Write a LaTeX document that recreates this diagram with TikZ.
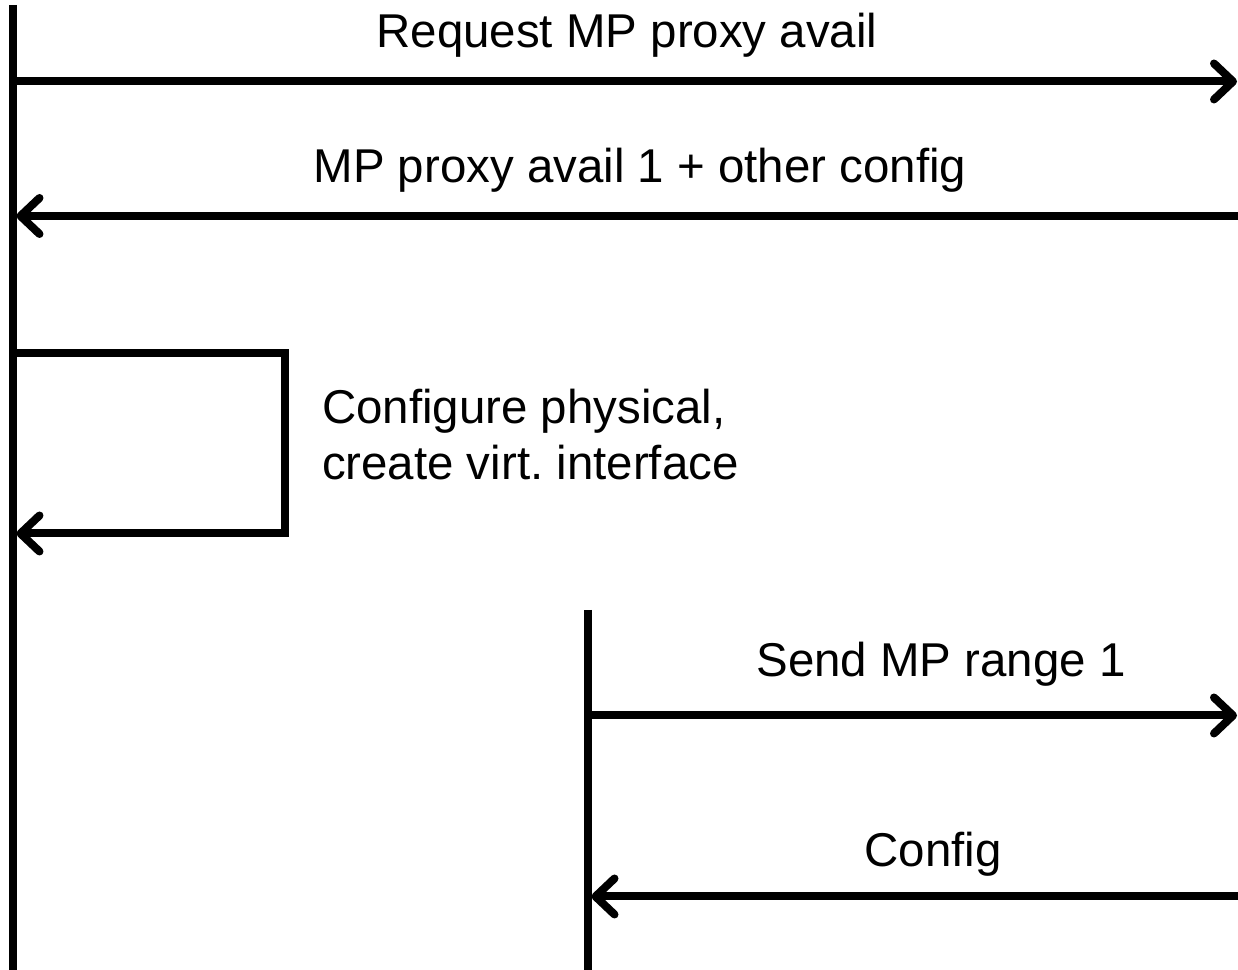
\documentclass[tikz,border=0pt]{standalone}
\usepackage{fontspec}
\setmainfont{Liberation Sans}
\usetikzlibrary{arrows.meta}

\begin{document}
\begin{tikzpicture}[line width=0.8mm, >={Straight Barb[length=1.9mm, width=3.6mm, round]},
    msg/.style={->},
    lbl/.style={font=\fontsize{13.5}{16.2}\selectfont\frenchspacing, inner sep=0pt, anchor=base}]
  \useasboundingbox (0,0) rectangle (12.38,9.70);
  % lifelines
  \coordinate (L1top) at (0.125,9.65);
  \coordinate (L1bot) at (0.125,-0.1);
  \coordinate (L2top) at (5.875,3.60);
  \coordinate (L2bot) at (5.875,-0.1);
  \draw (L1top) -- (L1bot);
  \draw (L2top) -- (L2bot);
  % request / reply
  \coordinate (reqA) at (0.125,8.885);
  \coordinate (reqB) at (12.37,8.885);
  \draw[msg] (reqA) -- (reqB);
  \node[lbl] (req) at (6.27,9.22) {Request MP proxy avail};
  \coordinate (repA) at (12.5,7.54);
  \coordinate (repB) at (0.165,7.54);
  \draw[msg] (repA) -- (repB);
  \node[lbl] (rep) at (6.40,7.87) {MP proxy avail 1 + other config};
  % self call
  \coordinate (selfA) at (0.125,6.165);
  \coordinate (selfB) at (0.165,4.365);
  \draw[msg] (selfA) -- (2.85,6.165) -- (2.85,4.365) -- (selfB);
  \node[lbl, anchor=base west, align=left] (self) at (3.18,4.90)
       {Configure physical,\\ create virt. interface};
  % second lifeline
  \coordinate (rngA) at (5.875,2.545);
  \coordinate (rngB) at (12.37,2.545);
  \draw[msg] (rngA) -- (rngB);
  \node[lbl] (rng) at (9.41,2.93) {Send MP range 1};
  \coordinate (cfgA) at (12.5,0.735);
  \coordinate (cfgB) at (5.915,0.735);
  \draw[msg] (cfgA) -- (cfgB);
  \node[lbl] (cfg) at (9.33,1.03) {Config};
\end{tikzpicture}
\end{document}
